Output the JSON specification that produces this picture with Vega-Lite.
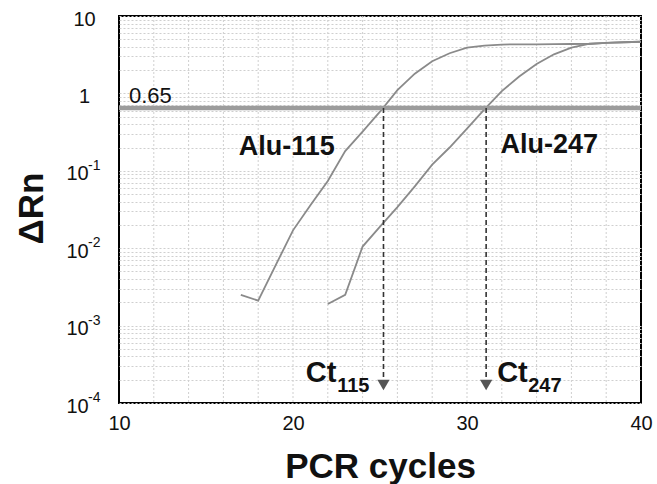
{
  "$schema": "https://vega.github.io/schema/vega-lite/v6.json",
  "width": 522,
  "height": 387,
  "autosize": {"type": "none"},
  "padding": {"left": 119, "top": 16, "right": 16, "bottom": 81},
  "background": "white",
  "config": {
    "view": {"stroke": "#000", "strokeWidth": 2},
    "font": "Liberation Sans",
    "axis": {"labelFont": "Liberation Sans", "titleFont": "Liberation Sans"}
  },
  "datasets": {
    "curves": [
      {"cycle": 17, "rn": 0.0025, "series": "Alu-115"},
      {"cycle": 18, "rn": 0.0021, "series": "Alu-115"},
      {"cycle": 19, "rn": 0.006, "series": "Alu-115"},
      {"cycle": 20, "rn": 0.017, "series": "Alu-115"},
      {"cycle": 21, "rn": 0.036, "series": "Alu-115"},
      {"cycle": 22, "rn": 0.074, "series": "Alu-115"},
      {"cycle": 23, "rn": 0.18, "series": "Alu-115"},
      {"cycle": 24, "rn": 0.32, "series": "Alu-115"},
      {"cycle": 25, "rn": 0.58, "series": "Alu-115"},
      {"cycle": 26, "rn": 1.1, "series": "Alu-115"},
      {"cycle": 27, "rn": 1.8, "series": "Alu-115"},
      {"cycle": 28, "rn": 2.6, "series": "Alu-115"},
      {"cycle": 29, "rn": 3.3, "series": "Alu-115"},
      {"cycle": 30, "rn": 3.9, "series": "Alu-115"},
      {"cycle": 31, "rn": 4.15, "series": "Alu-115"},
      {"cycle": 32, "rn": 4.28, "series": "Alu-115"},
      {"cycle": 33, "rn": 4.3, "series": "Alu-115"},
      {"cycle": 34, "rn": 4.3, "series": "Alu-115"},
      {"cycle": 35, "rn": 4.32, "series": "Alu-115"},
      {"cycle": 36, "rn": 4.35, "series": "Alu-115"},
      {"cycle": 37, "rn": 4.38, "series": "Alu-115"},
      {"cycle": 38, "rn": 4.5, "series": "Alu-115"},
      {"cycle": 39, "rn": 4.58, "series": "Alu-115"},
      {"cycle": 40, "rn": 4.65, "series": "Alu-115"},
      {"cycle": 22, "rn": 0.0019, "series": "Alu-247"},
      {"cycle": 23, "rn": 0.0025, "series": "Alu-247"},
      {"cycle": 24, "rn": 0.0105, "series": "Alu-247"},
      {"cycle": 25, "rn": 0.019, "series": "Alu-247"},
      {"cycle": 26, "rn": 0.034, "series": "Alu-247"},
      {"cycle": 27, "rn": 0.063, "series": "Alu-247"},
      {"cycle": 28, "rn": 0.12, "series": "Alu-247"},
      {"cycle": 29, "rn": 0.2, "series": "Alu-247"},
      {"cycle": 30, "rn": 0.35, "series": "Alu-247"},
      {"cycle": 31, "rn": 0.62, "series": "Alu-247"},
      {"cycle": 32, "rn": 1.07, "series": "Alu-247"},
      {"cycle": 33, "rn": 1.65, "series": "Alu-247"},
      {"cycle": 34, "rn": 2.4, "series": "Alu-247"},
      {"cycle": 35, "rn": 3.2, "series": "Alu-247"},
      {"cycle": 36, "rn": 3.9, "series": "Alu-247"},
      {"cycle": 37, "rn": 4.35, "series": "Alu-247"},
      {"cycle": 38, "rn": 4.5, "series": "Alu-247"},
      {"cycle": 39, "rn": 4.58, "series": "Alu-247"},
      {"cycle": 40, "rn": 4.65, "series": "Alu-247"}
    ],
    "ct": [
      {"ct": 25.2, "top": 0.65, "bottom": 0.00021, "arrow": 0.000171},
      {"ct": 31.1, "top": 0.65, "bottom": 0.00021, "arrow": 0.000171}
    ],
    "vgrid": [
      {"cycle": 12}, {"cycle": 14}, {"cycle": 16}, {"cycle": 18}, {"cycle": 20},
      {"cycle": 22}, {"cycle": 24}, {"cycle": 26}, {"cycle": 28}, {"cycle": 30},
      {"cycle": 32}, {"cycle": 34}, {"cycle": 36}, {"cycle": 38}
    ]
  },
  "layer": [
    {
      "data": {"name": "vgrid"},
      "mark": {"type": "rule", "stroke": "#cfcfcf", "strokeWidth": 1, "strokeDash": [2, 2]},
      "encoding": {
        "x": {
          "field": "cycle", "type": "quantitative",
          "scale": {"domain": [10, 40], "nice": false, "zero": false},
          "axis": {
            "title": "PCR cycles",
            "values": [10, 20, 30, 40],
            "labelFontSize": 20, "labelColor": "#111", "labelPadding": 10,
            "labelFlush": false, "labelOverlap": false, "labelBound": false,
            "ticks": false, "domain": false, "grid": false,
            "titleFontSize": 35, "titleFontWeight": "bold", "titleColor": "#111",
            "titleBaseline": "alphabetic", "titleY": 74
          }
        }
      }
    },
    {
      "data": {"name": "curves"},
      "mark": {"type": "line", "stroke": "#8a8a8a", "strokeWidth": 1.8, "clip": true},
      "encoding": {
        "x": {"field": "cycle", "type": "quantitative"},
        "y": {
          "field": "rn", "type": "quantitative",
          "scale": {"type": "log", "domain": [0.0001, 10], "nice": false},
          "axis": {
            "title": "ΔRn",
            "values": [0.0001, 0.0002, 0.0003, 0.0004, 0.0005, 0.0006, 0.0007, 0.0008, 0.0009,
                       0.001, 0.002, 0.003, 0.004, 0.005, 0.006, 0.007, 0.008, 0.009,
                       0.01, 0.02, 0.03, 0.04, 0.05, 0.06, 0.07, 0.08, 0.09,
                       0.1, 0.2, 0.3, 0.4, 0.5, 0.6, 0.7, 0.8, 0.9,
                       1, 2, 3, 4, 5, 6, 7, 8, 9, 10],
            "labelExpr": "datum.value == 10 ? '10' : datum.value == 1 ? '1' : (datum.value == 0.1 || datum.value == 0.01 || datum.value == 0.001 || datum.value == 0.0001) ? '10' : ''",
            "labelFontSize": 20, "labelColor": "#111",
            "labelPadding": {"condition": {"test": "datum.value < 0.5", "value": 42}, "value": 35},
            "labelAlign": "center", "labelBaseline": "middle", "labelOffset": 3,
            "labelFlush": false, "labelOverlap": false, "labelBound": false,
            "ticks": false, "domain": false,
            "grid": true, "gridColor": "#cfcfcf", "gridDash": [2, 2], "gridWidth": 1,
            "titleFontSize": 35, "titleFontWeight": "bold", "titleColor": "#111",
            "titleBaseline": "alphabetic", "titleAlign": "center", "titleAngle": -90,
            "titleX": -77, "titleY": 192
          }
        },
        "detail": {"field": "series", "type": "nominal"}
      }
    },
    {
      "data": {"values": [
        {"x": 10, "y": 0.1, "sup": "-1"},
        {"x": 10, "y": 0.01, "sup": "-2"},
        {"x": 10, "y": 0.001, "sup": "-3"},
        {"x": 10, "y": 0.0001, "sup": "-4"}
      ]},
      "mark": {"type": "text", "align": "left", "baseline": "alphabetic", "dx": -31, "dy": -1, "fontSize": 14, "color": "#111", "clip": false},
      "encoding": {
        "x": {"field": "x", "type": "quantitative"},
        "y": {"field": "y", "type": "quantitative"},
        "text": {"field": "sup"}
      }
    },
    {
      "data": {"values": [{"threshold": 0.65}]},
      "mark": {"type": "rule", "stroke": "#9c9c9c", "strokeWidth": 4.5},
      "encoding": {
        "y": {"field": "threshold", "type": "quantitative"}
      }
    },
    {
      "data": {"values": [{"threshold": 0.65, "x": 10, "text": "0.65"}]},
      "mark": {"type": "text", "align": "left", "baseline": "alphabetic", "dx": 10, "dy": -5, "fontSize": 22, "color": "#111"},
      "encoding": {
        "x": {"field": "x", "type": "quantitative"},
        "y": {"field": "threshold", "type": "quantitative"},
        "text": {"field": "text"}
      }
    },
    {
      "data": {"name": "ct"},
      "mark": {"type": "rule", "stroke": "#333", "strokeWidth": 1.6, "strokeDash": [5, 3]},
      "encoding": {
        "x": {"field": "ct", "type": "quantitative"},
        "y": {"field": "top", "type": "quantitative"},
        "y2": {"field": "bottom"}
      }
    },
    {
      "data": {"name": "ct"},
      "mark": {"type": "point", "shape": "triangle-down", "filled": true, "size": 150, "color": "#555", "opacity": 1},
      "encoding": {
        "x": {"field": "ct", "type": "quantitative"},
        "y": {"field": "arrow", "type": "quantitative"}
      }
    },
    {
      "data": {"values": [
        {"x": 19.64, "y": 0.205, "text": "Alu-115"},
        {"x": 34.73, "y": 0.215, "text": "Alu-247"}
      ]},
      "mark": {"type": "text", "align": "center", "baseline": "middle", "fontSize": 27, "fontWeight": "bold", "color": "#111"},
      "encoding": {
        "x": {"field": "x", "type": "quantitative"},
        "y": {"field": "y", "type": "quantitative"},
        "text": {"field": "text"}
      }
    },
    {
      "data": {"values": [{"ct": 25.2, "label": 0.000187, "text": "Ct"}]},
      "mark": {"type": "text", "align": "right", "baseline": "alphabetic", "dx": -47, "fontSize": 29, "fontWeight": "bold", "color": "#111"},
      "encoding": {
        "x": {"field": "ct", "type": "quantitative"},
        "y": {"field": "label", "type": "quantitative"},
        "text": {"field": "text"}
      }
    },
    {
      "data": {"values": [{"ct": 25.2, "label": 0.000187, "text": "115"}]},
      "mark": {"type": "text", "align": "right", "baseline": "alphabetic", "dx": -14, "dy": 10, "fontSize": 20, "fontWeight": "bold", "color": "#111"},
      "encoding": {
        "x": {"field": "ct", "type": "quantitative"},
        "y": {"field": "label", "type": "quantitative"},
        "text": {"field": "text"}
      }
    },
    {
      "data": {"values": [{"ct": 31.1, "label": 0.000187, "text": "Ct"}]},
      "mark": {"type": "text", "align": "left", "baseline": "alphabetic", "dx": 11, "fontSize": 29, "fontWeight": "bold", "color": "#111"},
      "encoding": {
        "x": {"field": "ct", "type": "quantitative"},
        "y": {"field": "label", "type": "quantitative"},
        "text": {"field": "text"}
      }
    },
    {
      "data": {"values": [{"ct": 31.1, "label": 0.000187, "text": "247"}]},
      "mark": {"type": "text", "align": "left", "baseline": "alphabetic", "dx": 42, "dy": 10, "fontSize": 20, "fontWeight": "bold", "color": "#111"},
      "encoding": {
        "x": {"field": "ct", "type": "quantitative"},
        "y": {"field": "label", "type": "quantitative"},
        "text": {"field": "text"}
      }
    }
  ]
}
